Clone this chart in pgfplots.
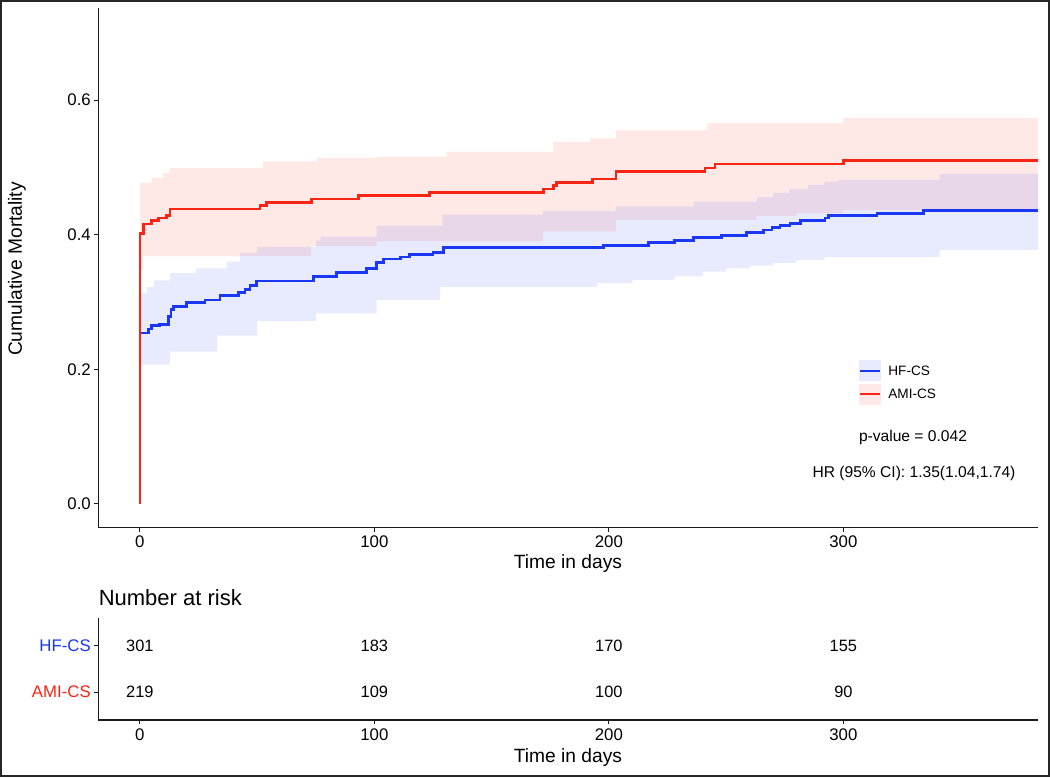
\documentclass[border=0pt]{standalone}
\usepackage{fontspec}
\setmainfont{Liberation Sans}
\usepackage{pgfplots}
\pgfplotsset{compat=1.18}
\usepackage{pgfplotstable}
\definecolor{hfblue}{RGB}{25,55,245}
\definecolor{amired}{RGB}{248,36,20}
\definecolor{axgray}{RGB}{25,25,25}

\pgfplotstableread{
t v
0 0
0 0.402
1.4 0.416
5 0.421
7.8 0.425
11.4 0.428
12.8 0.438
51.2 0.443
54 0.448
73.2 0.453
93.1 0.458
123.5 0.463
172 0.468
176.3 0.473
177.8 0.478
193 0.483
203 0.494
241 0.499
245.3 0.505
300 0.510
383 0.510
}\amiline

\pgfplotstableread{
t v
0 0
0 0.254
3.6 0.260
5 0.265
8.5 0.267
12.1 0.278
13.2 0.289
14.2 0.293
19.9 0.299
27.7 0.303
34.1 0.310
41.9 0.314
44.8 0.319
46.9 0.324
49.8 0.331
73.9 0.338
83.9 0.344
96.7 0.350
101 0.359
104 0.364
111 0.367
115 0.371
125 0.374
129.4 0.381
197.7 0.384
216.9 0.388
228 0.391
236 0.396
248 0.399
258.8 0.403
266 0.407
269.5 0.411
273 0.414
277.3 0.417
281.6 0.421
292.2 0.425
293.7 0.429
314.3 0.432
334.2 0.436
383 0.436
}\hfline

% AMI-CS 95% band: upper limit forward, then lower limit backward (step-shifted)
\pgfplotstableread{
t v
0 0.477
5 0.485
10 0.492
12.8 0.499
52.6 0.509
75.4 0.514
101 0.516
130.8 0.523
176.3 0.538
192 0.543
203 0.555
242 0.566
300 0.5735
383 0.5735
383 0.437
300 0.432
280 0.428
263 0.422
203 0.405
172 0.390
101 0.383
73 0.368
1.4 0.348
0 0.348
}\amiband

% HF-CS 95% band: upper limit forward, then lower limit backward (step-shifted)
\pgfplotstableread{
t v
0 0.313
3 0.322
6 0.332
12.8 0.343
24 0.350
37 0.360
42.7 0.373
50 0.382
75 0.391
77 0.397
101 0.413
129 0.430
172 0.435
203 0.442
236 0.449
263 0.456
270 0.462
277 0.468
285 0.474
292 0.479
298 0.482
341 0.4905
383 0.4905
383 0.3775
341 0.367
292 0.362
280 0.358
270 0.354
260 0.350
250 0.345
240 0.338
228 0.333
210 0.328
195 0.322
128 0.303
101 0.283
75 0.272
50 0.250
33 0.226
12.8 0.207
0 0.207
}\hfband

\pgfplotstableread{
t g n
0 2 301
100 2 183
200 2 170
300 2 155
0 1 219
100 1 109
200 1 100
300 1 90
}\risktab

\pgfplotsset{
  kmstyle/.style={
    scale only axis,
    width=469.8pt,
    xmin=-17.7, xmax=383,
    axis x line*=bottom, axis y line*=left,
    axis line style={axgray, line width=0.6pt, -},
    xtick={0,100,200,300}, xticklabels={0,100,200,300},
    tick align=outside, major tick length=2.2pt,
    tick style={axgray, line width=0.5pt},
    xticklabel style={font=\fontsize{8.4}{10}\selectfont, anchor=north, inner sep=0pt, yshift=-2pt},
    yticklabel style={font=\fontsize{8.4}{10}\selectfont, anchor=east, inner sep=0pt, xshift=-1.4pt},
  }
}

\begin{document}
\begin{tikzpicture}[x=1pt,y=1pt]
\useasboundingbox (0,0) rectangle (525,388.5);

\begin{axis}[kmstyle,
  at={(49.2pt,124.85pt)}, anchor=south west,
  height=259.65pt,
  ymin=-0.035, ymax=0.737,
  ytick={0,0.2,0.4,0.6}, yticklabels={0.0,0.2,0.4,0.6},
]
\addplot[const plot, fill=amired, fill opacity=0.1, draw=none] table[x=t,y=v] {\amiband};
\addplot[const plot, fill=hfblue, fill opacity=0.1, draw=none] table[x=t,y=v] {\hfband};
\addplot[const plot, hfblue, line width=1.35pt] table[x=t,y=v] {\hfline};
\addplot[const plot, amired, line width=1.35pt] table[x=t,y=v] {\amiline};
\end{axis}

\begin{axis}[kmstyle,
  at={(49.2pt,28.5pt)}, anchor=south west,
  height=51pt,
  ymin=0.4, ymax=2.6,
  ytick={1,2}, yticklabels={\textcolor{amired}{AMI-CS},\textcolor{hfblue}{HF-CS}},
]
\addplot[draw=none, mark=none, nodes near coords, point meta=explicit symbolic,
  every node near coord/.append style={anchor=center, font=\fontsize{8.2}{10}\selectfont, text=black}]
  table[x=t,y=g,meta=n] {\risktab};
\end{axis}

\node[rotate=90, font=\fontsize{9.6}{11}\selectfont] at (8.5,254) {Cumulative Mortality};
\node[font=\fontsize{9.6}{11}\selectfont] at (284,106.6) {Time in days};
\node[font=\fontsize{9.6}{11}\selectfont] at (284,9.6) {Time in days};
\node[anchor=west, inner sep=0pt, font=\fontsize{11}{13}\selectfont] at (49.2,89.5) {Number at risk};

% legend
\fill[hfblue!10] (429.5,197.9) rectangle (440.5,208.4);
\draw[hfblue, line width=1pt] (430,203.15) -- (440,203.15);
\fill[amired!10] (429.5,186.1) rectangle (440.5,196.6);
\draw[amired, line width=1pt] (430,191.35) -- (440,191.35);
\node[anchor=west, inner sep=0pt, font=\fontsize{6.8}{8}\selectfont] at (444,203.15) {HF-CS};
\node[anchor=west, inner sep=0pt, font=\fontsize{6.8}{8}\selectfont] at (444,191.35) {AMI-CS};

\node[font=\fontsize{7.8}{9}\selectfont] at (456.5,169.65) {p-value = 0.042};
\node[font=\fontsize{7.8}{9}\selectfont] at (457,151.85) {HR (95\% CI): 1.35(1.04,1.74)};

\draw[line width=0.8pt, black!85] (0.4,0.4) rectangle (524.6,388.1);
\end{tikzpicture}
\end{document}
